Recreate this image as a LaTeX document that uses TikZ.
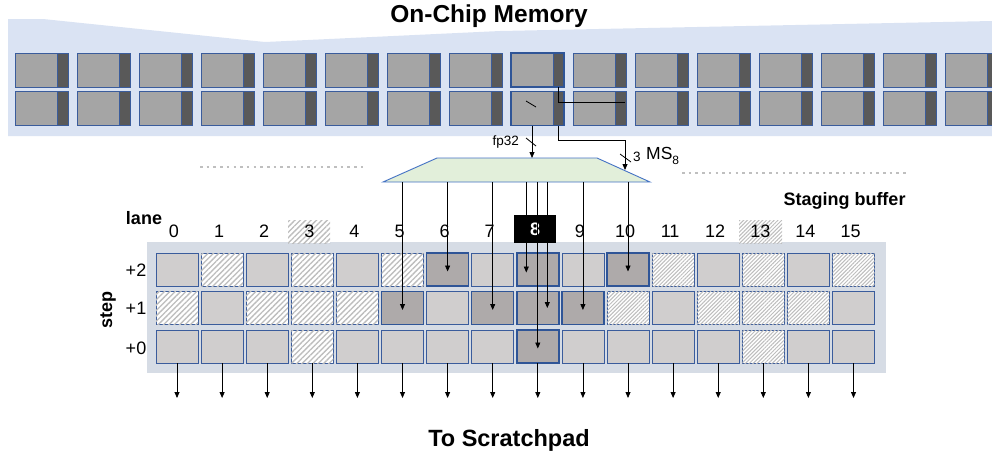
\documentclass[tikz,border=0pt]{standalone}
\usepackage{fontspec}
\setmainfont{Liberation Sans}
\usetikzlibrary{arrows.meta,patterns.meta}
\definecolor{memBg}{HTML}{DAE3F3}
\definecolor{blkL}{HTML}{A5A5A5}
\definecolor{blkD}{HTML}{595959}
\definecolor{blkB}{HTML}{3A5C9C}
\definecolor{selB}{HTML}{2F5597}
\definecolor{bufBg}{HTML}{D6DCE5}
\definecolor{cellL}{HTML}{D0CECE}
\definecolor{cellD}{HTML}{AEAAAA}
\definecolor{hatchC}{HTML}{BDBDBD}
\definecolor{trapF}{HTML}{E2EFDA}
\definecolor{trapB}{HTML}{4472C4}
\definecolor{dotC}{HTML}{BFBFBF}
\newcommand{\fs}[1]{\fontsize{#1}{#1}\selectfont}
\begin{document}
\begin{tikzpicture}[x=1pt,y=-1pt,
  arr/.style={-{Triangle[width=5pt,length=6pt]}, line width=0.8pt},
  conn/.style={line width=0.8pt},
  memlight/.style={fill=blkL, draw=blkB, line width=0.9pt, minimum width=42pt, minimum height=34pt, inner sep=0pt, outer sep=0pt},
  memdark/.style={fill=blkD, draw=blkB, line width=0.9pt, minimum width=11pt, minimum height=34pt, inner sep=0pt, outer sep=0pt},
  cellbase/.style={draw=blkB, line width=0.8pt, minimum width=42pt, minimum height=33pt, inner sep=0pt, outer sep=0pt},
  cL/.style={cellbase, fill=cellL},
  cS/.style={cellbase, fill=cellD, draw=selB, line width=1.5pt},
  hatchA/.style={fill=white, postaction={pattern={Lines[angle=45,distance=3.8pt,line width=1.3pt]}, pattern color=hatchC}},
  hatchB/.style={fill=white, postaction={pattern={Lines[angle=45,distance=2.7pt,line width=1.0pt]}, pattern color=hatchC}},
  cH/.style={cellbase, hatchA},
  cF/.style={cellbase, hatchB},
  lbl/.style={font=\fs{18}, inner sep=0pt},
  bold/.style={font=\bfseries\fs{18}, inner sep=0pt},
  dots/.style={draw=dotC, line width=2.5pt, dash pattern=on 2.5pt off 4.2pt}
]
\useasboundingbox (0,0) rectangle (992,456);
\clip (0,0) rectangle (992,456);

% on-chip memory background
\fill[memBg] (8,19) -- (43,19) -- (265,42) -- (500,31) -- (992,21) -- (992,136) -- (8,136) -- cycle;
\node[font=\bfseries\fs{24.5}, inner sep=0pt] (title) at (489,16) {On-Chip Memory};

% memory blocks
\foreach \i in {0,...,15} {
  \foreach \r/\y in {a/70,b/108.5} {
    \node[memlight] (m\i\r) at (36+62*\i,\y) {};
    \node[memdark] (d\i\r) at (62.5+62*\i,\y) {};
  }
}
\draw[selB, line width=1.6pt] (m8a.north west) rectangle (d8a.south east);
\draw[selB, line width=1.6pt] (m8b.north west) rectangle (d8b.south east);
\draw[conn] (526,101) -- (536,107);

% dotted separators
\coordinate (dl1) at (200,167); \coordinate (dl2) at (364,167);
\coordinate (dr1) at (682,173); \coordinate (dr2) at (908,173);
\draw[dots] (dl1) -- (dl2);
\draw[dots] (dr1) -- (dr2);

% mux trapezoid
\coordinate (tt) at (0,158);
\coordinate (tb) at (0,182);
\coordinate (ms) at (625,170);
\draw[fill=trapF, draw=trapB, line width=0.9pt] (437,158) -- (597,158) -- (650,182) -- (383,182) -- cycle;

% connectors memory -> mux
\draw[arr] (m8b.south) -- (m8b.south |- tt);
\draw[conn] (526,138) -- (536,146);
\node[font=\fs{13.5}, anchor=east, inner sep=0pt] (fp) at (519,142) {fp32};
\draw[conn] (d8a.south) -- (d8a.south |- 0,102) -- (625,102);
\draw[arr] (d8b.south) -- ++(0,15) -| (ms);
\draw[conn] (620,154) -- (631,162);
\node[font=\fs{13.5}, anchor=west, inner sep=0pt] (three) at (633,157) {3};
\node[font=\fs{17.5}, anchor=west, inner sep=0pt] (msl) at (646,156) {MS\raisebox{-5pt}{\fs{12}8}};

% staging buffer
\fill[bufBg] (147,242) rectangle (886,373);
\node[bold] (sb) at (844.5,201) {Staging buffer};
\node[bold] (lane) at (144,218) {lane};
\node[bold, rotate=90] (step) at (108,310) {step};
\node[lbl] (s2) at (136,270) {+2};
\node[lbl] (s1) at (136,308) {+1};
\node[lbl] (s0) at (136,348) {+0};

% lane labels
\node[minimum width=42pt, minimum height=23pt, inner sep=0pt, hatchA] (b3) at (309,231.5) {};
\node[minimum width=43pt, minimum height=23pt, inner sep=0pt, hatchB] (b13) at (760.5,231.5) {};
\node[minimum width=42pt, minimum height=28pt, inner sep=0pt, fill=black] (b8) at (535,229) {};
\foreach \i in {0,...,7,9,10,11,12,13,14,15} {
  \node[lbl] (l\i) at (174+45.1*\i,231.5) {\i};
}
\node[font=\bfseries\fs{18}, text=white, inner sep=0pt] (l8) at (535,229.5) {8};

% cells
\foreach \i/\r in {0/2,2/2,4/2,7/2,9/2,12/2,14/2,1/1,6/1,11/1,15/1,0/0,1/0,2/0,4/0,5/0,6/0,7/0,9/0,10/0,11/0,12/0,14/0,15/0} {
  \node[cL] (c-\i-\r) at (177+45.1*\i, 346.5-38.5*\r) {};
}
\foreach \i/\r in {1/2,3/2,5/2,0/1,2/1,3/1,4/1,3/0} {
  \node[cH] (c-\i-\r) at (177+45.1*\i, 346.5-38.5*\r) {};
}
\foreach \i/\r in {11/2,13/2,15/2,10/1,12/1,13/1,14/1,13/0} {
  \node[cF] (c-\i-\r) at (177+45.1*\i, 346.5-38.5*\r) {};
}
\foreach \i/\r in {6/2,8/2,10/2,5/1,7/1,8/1,9/1,8/0} {
  \node[cS] (c-\i-\r) at (177+45.1*\i, 346.5-38.5*\r) {};
}

% mux -> cells
\foreach \i/\r in {5/1,6/2,7/1,9/1,10/2} {
  \draw[arr] (c-\i-\r.center |- tb) -- ([yshift=-2pt]c-\i-\r.center);
}
\draw[arr] ([xshift=-11.5pt]c-8-2.center |- tb) -- ([xshift=-11.5pt,yshift=-3pt]c-8-2.center);
\draw[arr] (c-8-0.center |- tb) -- ([yshift=-2pt]c-8-0.center);
\draw[arr] ([xshift=9.5pt]c-8-1.center |- tb) -- ([xshift=9.5pt]c-8-1.center);

% outputs
\foreach \i in {0,...,15} {
  \draw[arr] (c-\i-0.south) -- ++(0,35);
}
\node[font=\bfseries\fs{23.5}, inner sep=0pt] (scr) at (509,440) {To Scratchpad};
\end{tikzpicture}
\end{document}
